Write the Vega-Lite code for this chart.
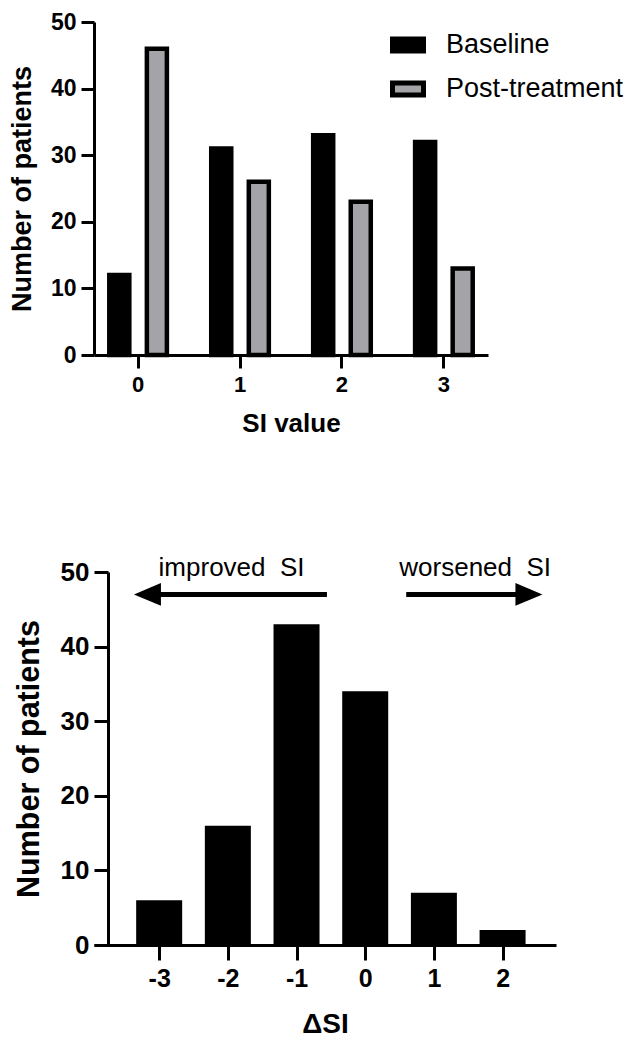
{
  "$schema": "https://vega.github.io/schema/vega-lite/v6.json",
  "padding": {"left": 8, "top": 11, "right": 5, "bottom": 5},
  "background": "white",
  "config": {
    "font": "Liberation Sans",
    "view": {"stroke": null},
    "axis": {"domainColor": "black", "domainWidth": 3, "tickColor": "black", "tickWidth": 3, "labelColor": "black", "titleColor": "black", "labelFontWeight": "bold", "titleFontWeight": "bold", "grid": false, "labelFont": "Liberation Sans", "titleFont": "Liberation Sans"}
  },
  "spacing": 119,
  "vconcat": [
    {
      "width": 394,
      "height": 333,
      "data": {"values": [
        {"si": "0", "series": "Baseline", "n": 12}, {"si": "0", "series": "Post-treatment", "n": 46},
        {"si": "1", "series": "Baseline", "n": 31}, {"si": "1", "series": "Post-treatment", "n": 26},
        {"si": "2", "series": "Baseline", "n": 33}, {"si": "2", "series": "Post-treatment", "n": 23},
        {"si": "3", "series": "Baseline", "n": 32}, {"si": "3", "series": "Post-treatment", "n": 13}
      ]},
      "mark": {"type": "bar", "stroke": "black", "strokeWidth": 4.5},
      "encoding": {
        "x": {"field": "si", "type": "ordinal", "scale": {"paddingInner": 0.435, "paddingOuter": 0.15},
          "axis": {"title": "SI value", "labelAngle": 0, "labelFontSize": 22, "titleFontSize": 26, "tickSize": 13, "labelPadding": 6, "titlePadding": 15}},
        "xOffset": {"field": "series", "scale": {"paddingInner": 0.467, "paddingOuter": 0}},
        "y": {"field": "n", "type": "quantitative", "scale": {"domain": [0, 50], "nice": false},
          "axis": {"title": "Number of patients", "values": [0, 10, 20, 30, 40, 50], "labelFontSize": 23, "titleFontSize": 27, "tickSize": 13, "labelPadding": 5, "titlePadding": 14}},
        "fill": {"field": "series", "type": "nominal", "scale": {"range": ["black", "#a3a3a8"]},
          "legend": {"title": null, "orient": "none", "legendX": 296, "legendY": 5, "symbolType": "M-1,-0.387H1V0.387H-1Z", "symbolSize": 961, "symbolStrokeColor": "black", "symbolStrokeWidth": 5, "labelFontSize": 27, "labelFont": "Liberation Sans", "labelColor": "black", "labelOffset": 20, "labelLimit": 0, "rowPadding": 10, "padding": 0}}
      }
    },
    {
      "width": 462,
      "height": 373,
      "layer": [
        {
          "data": {"values": [{"d": -3, "n": 6}, {"d": -2, "n": 16}, {"d": -1, "n": 43}, {"d": 0, "n": 34}, {"d": 1, "n": 7}, {"d": 2, "n": 2}]},
          "mark": {"type": "bar", "color": "black", "size": 46},
          "encoding": {
            "x": {"field": "d", "type": "quantitative", "scale": {"domain": [-3.876, 2.705], "nice": false, "zero": false},
              "axis": {"title": "ΔSI", "values": [-3, -2, -1, 0, 1, 2], "labelExpr": "'' + datum.value", "labelFontSize": 25, "titleFontSize": 28, "tickSize": 15, "labelPadding": 6, "titlePadding": 19}},
            "y": {"field": "n", "type": "quantitative", "scale": {"domain": [0, 50], "nice": false},
              "axis": {"title": "Number of patients", "offset": -14, "values": [0, 10, 20, 30, 40, 50], "labelFontSize": 26, "titleFontSize": 30.5, "tickSize": 14, "labelPadding": 5, "titlePadding": 16}}
          }
        },
        {
          "data": {"values": [{"x1": -3.171, "x2": -0.557, "y": 47}, {"x1": 0.597, "x2": 2.384, "y": 47}]},
          "mark": {"type": "rule", "strokeWidth": 5, "color": "black"},
          "encoding": {
            "x": {"field": "x1", "type": "quantitative", "scale": {"domain": [-3.876, 2.705], "nice": false, "zero": false}},
            "x2": {"field": "x2"},
            "y": {"field": "y", "type": "quantitative", "scale": {"domain": [0, 50], "nice": false}}
          }
        },
        {
          "data": {"values": [{"x": -3.171, "y": 47, "dir": "left"}, {"x": 2.384, "y": 47, "dir": "right"}]},
          "mark": {"type": "point", "filled": true, "color": "black", "opacity": 1, "size": 729},
          "encoding": {
            "x": {"field": "x", "type": "quantitative", "scale": {"domain": [-3.876, 2.705], "nice": false, "zero": false}},
            "y": {"field": "y", "type": "quantitative", "scale": {"domain": [0, 50], "nice": false}},
            "shape": {"field": "dir", "type": "nominal", "scale": {"domain": ["left", "right"], "range": ["M1,-0.85L-1,0L1,0.85Z", "M-1,-0.85L1,0L-1,0.85Z"]}, "legend": null}
          }
        },
        {
          "data": {"values": [{"x": -1.946, "y": 50.5, "label": "improved\u00a0 SI"}, {"x": 1.601, "y": 50.5, "label": "worsened\u00a0 SI"}]},
          "mark": {"type": "text", "fontSize": 26, "font": "Liberation Sans", "color": "black", "baseline": "middle", "align": "center"},
          "encoding": {
            "x": {"field": "x", "type": "quantitative", "scale": {"domain": [-3.876, 2.705], "nice": false, "zero": false}},
            "y": {"field": "y", "type": "quantitative", "scale": {"domain": [0, 50], "nice": false}},
            "text": {"field": "label"}
          }
        }
      ]
    }
  ]
}
